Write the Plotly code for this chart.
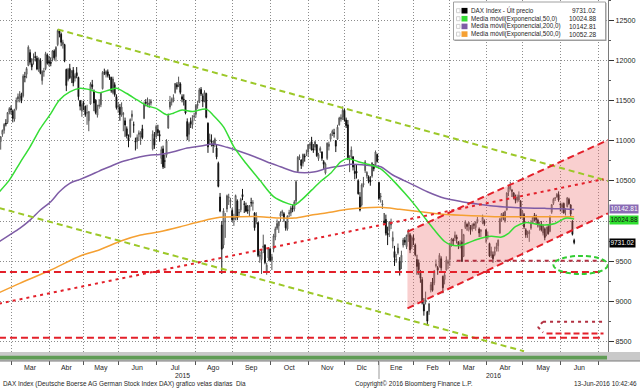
import pandas as pd
import plotly.graph_objects as go

# ---------------- data ----------------
FIRST_DAY, LAST_DAY = "2015-02-19", "2016-06-13"
HOLIDAYS = ["2015-04-03", "2015-04-06", "2015-05-01", "2015-12-24", "2015-12-25",
            "2015-12-31", "2016-01-01", "2016-03-25", "2016-03-28"]

OPEN = [
    10990, 10990, 11080, 11130, 11220, 11230, 11360,
    11400, 11370, 11270, 11400, 11520, 11530, 11560, 11560, 11800, 11830, 11940, 12100, 11960, 12000, 12050, 12030, 11900, 12000, 11750, 11860, 11900, 12070,
    11990, 11980, 12030, 12120, 12050, 12200, 12370, 12330, 12200, 12200, 11890, 11760, 11900, 11800, 11880, 11780, 11850, 11790, 11500, 11370,
    11470, 11430, 11350, 11250, 11460, 11700, 11620, 11500, 11320, 11430, 11450, 11650, 11850, 11830, 11860, 11800, 11790, 11600, 11700, 11550,
    11420, 11420, 11320, 11330, 11250, 11150, 11040, 11050, 11300, 11200, 11000, 10990, 11080, 11050, 11150, 11280, 11480, 11460, 11450, 11470, 10900, 11030,
    11050, 11140, 11080, 10780, 10900, 10750, 10820, 11160, 11420, 11480, 11510, 11600, 11700, 11690, 11710, 11550, 11520, 11500, 11240, 11080, 11240, 11200, 11300,
    11330, 11440, 11480, 11640, 11560, 11500, 11590, 11220, 11000, 11000, 10960, 10950, 10910, 10720, 10300, 9950, 9700, 9990, 10150, 10290, 10240,
    10130, 10020, 10060, 10250, 10100, 10140, 10330, 10210, 10190, 10140, 10120, 10230, 10220, 10100, 10000, 9980, 9560, 9520, 9670, 9700, 9370, 9540,
    9650, 9510, 9650, 9800, 9910, 9940, 10060, 10100, 10090, 9990, 9900, 10090, 10100, 10160, 10150, 10250, 10620, 10790, 10760, 10720, 10810, 10850,
    10860, 10950, 10990, 10900, 10920, 10950, 10780, 10880, 10860, 10740, 10600, 10780, 10930, 11020, 11090, 11100, 11000, 11020, 11200, 11270, 11300,
    11380, 11260, 11200, 10750, 10800, 10800, 10620, 10620, 10500, 10300, 10200, 10450, 10630, 10560, 10550, 10510, 10560, 10700, 10700, 10830,
    10480, 10300, 10200, 10000, 10020, 9850, 9880, 9950, 9750, 9620, 9510, 9600, 9500, 9480, 9700, 9760, 9680, 9810, 9830, 9680,
    9790, 9700, 9520, 9480, 9350, 9270, 8960, 9000, 8870, 8870, 9140, 9240, 9230, 9440, 9420, 9440, 9530, 9310, 9270, 9390, 9470,
    9520, 9700, 9770, 9790, 9800, 9740, 9700, 9740, 9560, 9920, 9960, 9940, 9930, 9900, 9960, 9920, 9990, 9900, 9870, 9980, 10000,
    9890, 9800, 9720, 9570, 9580, 9580, 9650, 9690, 9850, 10030, 10070, 10000, 10140, 10360, 10400, 10380, 10350, 10290, 10260, 10260, 10250,
    10060, 10080, 9890, 9840, 9840, 9910, 9980, 10070, 10060, 10010, 9930, 9960, 9850, 9900, 9830, 9930, 9870, 10110, 10220, 10280, 10300, 10330,
    10210, 10170, 10220, 10120, 10180, 10270, 10200, 10000, 9760,
]
HIGH = [
    11030, 11060, 11140, 11220, 11270, 11360, 11420,
    11440, 11390, 11400, 11540, 11590, 11620, 11600, 11830, 11860, 11920, 12190, 12140, 12030, 12090, 12110, 12060, 12040, 12030, 11880, 11910, 12110, 12090,
    12060, 12040, 12130, 12140, 12180, 12390, 12380, 12350, 12260, 12210, 11900, 11910, 11960, 11880, 11920, 11840, 11920, 11800, 11510, 11500,
    11500, 11440, 11450, 11370, 11730, 11760, 11640, 11520, 11450, 11520, 11600, 11870, 11900, 11880, 11890, 11830, 11800, 11800, 11730, 11580,
    11480, 11460, 11480, 11360, 11290, 11180, 11080, 11280, 11380, 11240, 11040, 11080, 11130, 11120, 11200, 11490, 11520, 11540, 11520, 11520, 11130, 11110,
    11200, 11200, 11130, 10930, 10940, 10830, 11020, 11340, 11560, 11540, 11580, 11720, 11730, 11800, 11730, 11580, 11580, 11510, 11280, 11230, 11290, 11320, 11350,
    11460, 11500, 11660, 11670, 11590, 11630, 11600, 11230, 11090, 11080, 11000, 11040, 10950, 10740, 10350, 10000, 10160, 10100, 10330, 10340, 10290,
    10160, 10090, 10330, 10270, 10150, 10290, 10400, 10250, 10230, 10200, 10200, 10290, 10260, 10110, 10110, 9990, 9630, 9640, 9830, 9710, 9480, 9670,
    9670, 9590, 9840, 9930, 10020, 10000, 10120, 10140, 10110, 10000, 10070, 10140, 10190, 10200, 10260, 10510, 10810, 10830, 10770, 10840, 10840, 10890,
    10960, 10980, 11050, 10960, 11000, 10960, 10850, 10930, 10870, 10760, 10730, 10980, 10990, 11090, 11140, 11150, 11010, 11200, 11300, 11330, 11430,
    11400, 11290, 11260, 10820, 10930, 10810, 10700, 10700, 10520, 10360, 10470, 10550, 10760, 10620, 10570, 10560, 10730, 10710, 10880, 10840,
    10490, 10350, 10260, 10100, 10080, 9930, 10000, 10030, 9870, 9690, 9590, 9720, 9550, 9630, 9790, 9800, 9830, 9900, 9850, 9820,
    9830, 9720, 9580, 9520, 9390, 9300, 9040, 9120, 8880, 8980, 9240, 9290, 9390, 9520, 9440, 9600, 9560, 9320, 9360, 9560, 9520,
    9730, 9790, 9790, 9870, 9830, 9750, 9760, 9900, 9840, 10010, 9970, 9990, 9950, 9970, 9980, 9990, 10050, 9920, 9900, 10080, 10020,
    9900, 9870, 9730, 9680, 9620, 9680, 9730, 9770, 10040, 10100, 10110, 10130, 10360, 10440, 10490, 10400, 10360, 10330, 10330, 10370, 10260,
    10140, 10100, 9910, 9880, 9890, 10010, 10050, 10100, 10080, 10030, 9990, 10000, 9960, 9920, 9930, 9960, 10070, 10210, 10290, 10300, 10350, 10370,
    10230, 10230, 10230, 10160, 10300, 10290, 10210, 10010, 9780,
]
LOW = [
    10930, 10890, 11050, 11090, 11180, 11210, 11330,
    11330, 11230, 11240, 11380, 11480, 11480, 11470, 11540, 11730, 11780, 11930, 11950, 11880, 11950, 11990, 11880, 11860, 11830, 11700, 11800, 11880, 11950,
    11930, 11930, 11990, 12010, 11990, 12180, 12290, 12180, 12150, 11980, 11620, 11740, 11770, 11720, 11680, 11740, 11780, 11510, 11380, 11300,
    11380, 11300, 11200, 11120, 11450, 11640, 11370, 11330, 11290, 11400, 11420, 11640, 11820, 11790, 11790, 11760, 11600, 11580, 11550, 11390,
    11350, 11250, 11300, 11120, 11050, 11030, 10920, 11040, 11250, 11100, 10880, 10900, 11000, 10950, 11020, 11270, 11430, 11420, 11410, 11440, 10880, 10900,
    11030, 11060, 10990, 10710, 10650, 10660, 10790, 11150, 11390, 11440, 11480, 11590, 11640, 11670, 11580, 11480, 11440, 11330, 11010, 10990, 11160, 11150, 11250,
    11290, 11400, 11470, 11560, 11420, 11480, 11280, 10850, 10960, 10930, 10850, 10920, 10770, 10420, 10110, 9340, 9660, 9790, 10110, 10200, 10160,
    9990, 9940, 10010, 10010, 10050, 10110, 10260, 10100, 10110, 10090, 10060, 10180, 10130, 9880, 9960, 9550, 9480, 9340, 9600, 9460, 9330, 9500,
    9490, 9390, 9610, 9760, 9890, 9850, 9990, 10060, 9990, 9880, 9880, 10050, 10060, 10110, 10120, 10200, 10610, 10760, 10650, 10680, 10740, 10810,
    10800, 10900, 10880, 10850, 10880, 10800, 10750, 10850, 10750, 10650, 10580, 10760, 10880, 10990, 11060, 11040, 10860, 11010, 11190, 11240, 11260,
    11240, 11160, 10760, 10610, 10770, 10630, 10520, 10530, 10330, 10120, 10180, 10420, 10600, 10530, 10470, 10440, 10540, 10620, 10690, 10730,
    10260, 10230, 10150, 9960, 9820, 9700, 9800, 9900, 9660, 9440, 9480, 9580, 9320, 9400, 9670, 9700, 9650, 9740, 9600, 9650,
    9700, 9560, 9330, 9330, 9230, 8960, 8820, 8960, 8700, 8830, 9110, 9120, 9200, 9420, 9330, 9420, 9380, 9100, 9210, 9380, 9400,
    9440, 9680, 9700, 9750, 9720, 9650, 9660, 9490, 9550, 9900, 9880, 9870, 9830, 9870, 9900, 9880, 9970, 9800, 9800, 9960, 9940,
    9730, 9770, 9550, 9540, 9480, 9560, 9620, 9620, 9840, 9990, 10010, 9980, 10130, 10310, 10380, 10300, 10270, 10220, 10230, 10240, 10030,
    10030, 9900, 9790, 9790, 9740, 9890, 9970, 10000, 9960, 9920, 9880, 9870, 9820, 9760, 9810, 9830, 9860, 10090, 10200, 10250, 10290, 10240,
    10120, 10100, 10090, 10070, 10170, 10200, 10050, 9820, 9710,
]
CLOSE = [
    11001, 11050, 11131, 11206, 11211, 11352, 11402,
    11390, 11280, 11390, 11504, 11551, 11582, 11500, 11806, 11799, 11901, 12168, 11980, 11923, 12020, 12040, 11896, 12017, 11843, 11865, 11868, 12086, 11966,
    11970, 11967, 12123, 12036, 12166, 12375, 12338, 12228, 12231, 11998, 11689, 11892, 11787, 11865, 11723, 11811, 11811, 11550, 11432, 11454,
    11455, 11327, 11350, 11367, 11709, 11674, 11472, 11352, 11400, 11447, 11595, 11853, 11848, 11864, 11815, 11790, 11625, 11771, 11577, 11413,
    11436, 11327, 11420, 11340, 11197, 11064, 11001, 11265, 11333, 11196, 10984, 11044, 11100, 11100, 11040, 11460, 11471, 11472, 11473, 11492, 11083, 10945,
    11180, 11100, 11058, 10890, 10676, 10747, 10996, 11316, 11484, 11516, 11539, 11716, 11673, 11734, 11604, 11520, 11512, 11347, 11056, 11212, 11211, 11257, 11309,
    11444, 11456, 11636, 11585, 11490, 11604, 11293, 10925, 11015, 10985, 10940, 11020, 10800, 10432, 10124, 9648, 10128, 9998, 10316, 10298, 10259,
    10016, 10048, 10318, 10038, 10108, 10271, 10303, 10210, 10123, 10131, 10188, 10227, 10229, 9916, 10066, 9571, 9570, 9612, 9688, 9483, 9450, 9660,
    9509, 9553, 9814, 9902, 9970, 9993, 10096, 10119, 10032, 9915, 10064, 10104, 10165, 10147, 10238, 10491, 10795, 10801, 10692, 10832, 10800, 10850,
    10951, 10951, 10887, 10887, 10988, 10815, 10832, 10907, 10782, 10708, 10713, 10971, 10959, 11085, 11119, 11092, 10934, 11170, 11284, 11293, 11382,
    11261, 11190, 10789, 10752, 10886, 10673, 10592, 10598, 10340, 10139, 10450, 10470, 10738, 10608, 10497, 10488, 10727, 10653, 10860, 10743,
    10283, 10310, 10214, 9979, 9849, 9825, 9985, 9960, 9794, 9545, 9521, 9664, 9391, 9574, 9764, 9736, 9822, 9880, 9639, 9798,
    9757, 9581, 9434, 9393, 9286, 8979, 8879, 9017, 8752, 8967, 9206, 9135, 9377, 9463, 9388, 9573, 9416, 9167, 9331, 9513, 9495,
    9717, 9776, 9751, 9824, 9778, 9692, 9723, 9498, 9831, 9990, 9933, 9983, 9892, 9950, 9948, 9990, 10022, 9851, 9887, 10046, 9966,
    9794, 9822, 9563, 9624, 9530, 9622, 9682, 9762, 10026, 10093, 10051, 10120, 10350, 10421, 10435, 10373, 10294, 10259, 10299, 10321, 10039,
    10123, 9926, 9828, 9851, 9870, 9980, 10045, 10036, 10015, 9952, 9952, 9890, 9943, 9795, 9916, 9842, 10057, 10205, 10272, 10287, 10333, 10263,
    10205, 10208, 10103, 10121, 10288, 10217, 10088, 9834, 9731,
]

EMA50_DATES = ["2015-02-19", "2015-02-27", "2015-03-09", "2015-03-17", "2015-03-25", "2015-04-02", "2015-04-13",
               "2015-04-21", "2015-04-29", "2015-05-08", "2015-05-15", "2015-05-25", "2015-05-29", "2015-06-08",
               "2015-06-16", "2015-06-24", "2015-07-01", "2015-07-09", "2015-07-15", "2015-07-22", "2015-07-30",
               "2015-08-11", "2015-08-17", "2015-08-25", "2015-09-02", "2015-09-11", "2015-09-23", "2015-10-05",
               "2015-10-15", "2015-10-21", "2015-10-27", "2015-11-04", "2015-11-11", "2015-11-19", "2015-11-27",
               "2015-12-03", "2015-12-11", "2015-12-22", "2016-01-05", "2016-01-14", "2016-01-25", "2016-02-01",
               "2016-02-09", "2016-02-17", "2016-02-25", "2016-03-02", "2016-03-10", "2016-03-17", "2016-03-29",
               "2016-04-06", "2016-04-14", "2016-04-20", "2016-04-26", "2016-05-04", "2016-05-11", "2016-05-19",
               "2016-05-27", "2016-06-06", "2016-06-13"]
EMA50 = [10360, 10510, 10720, 10925, 11155, 11340, 11510, 11610, 11655, 11635, 11600, 11635, 11655, 11590,
         11510, 11435, 11405, 11325, 11345, 11385, 11365, 11395, 11320, 11175, 10925, 10720, 10510, 10305,
         10220, 10200, 10260, 10385, 10490, 10595, 10740, 10780, 10740, 10700, 10650, 10510, 10345, 10220,
         10055, 9890, 9745, 9700, 9700, 9740, 9785, 9810, 9800, 9845, 9930, 9980, 9965, 9950, 9970, 10035, 10025]

EMA200_DATES = ["2015-02-19", "2015-02-27", "2015-03-09", "2015-03-17", "2015-03-25", "2015-04-02", "2015-04-13",
                "2015-04-21", "2015-04-29", "2015-05-08", "2015-05-15", "2015-05-25", "2015-06-03", "2015-06-10",
                "2015-06-18", "2015-06-26", "2015-07-03", "2015-07-15", "2015-07-24", "2015-08-06", "2015-08-17",
                "2015-08-27", "2015-09-08", "2015-09-18", "2015-09-29", "2015-10-09", "2015-10-21", "2015-10-29",
                "2015-11-06", "2015-11-17", "2015-11-27", "2015-12-07", "2015-12-22", "2016-01-05", "2016-01-14",
                "2016-01-28", "2016-02-11", "2016-02-25", "2016-03-10", "2016-03-23", "2016-04-07", "2016-04-21",
                "2016-05-05", "2016-05-19", "2016-06-01", "2016-06-13"]
EMA200 = [9742, 9825, 9909, 10012, 10137, 10241, 10365, 10470, 10520, 10574, 10623, 10677, 10740, 10769,
          10802, 10823, 10830, 10864, 10906, 10935, 10960, 10919, 10864, 10802, 10740, 10677, 10615, 10602,
          10615, 10657, 10686, 10707, 10690, 10677, 10574, 10470, 10365, 10283, 10241, 10212, 10187, 10171,
          10162, 10158, 10153, 10143]

EMA500_DATES = ["2015-02-19", "2015-03-09", "2015-04-02", "2015-04-29", "2015-05-15", "2015-06-03", "2015-06-18",
                "2015-07-03", "2015-07-21", "2015-08-05", "2015-08-21", "2015-09-08", "2015-09-23", "2015-10-09",
                "2015-10-21", "2015-11-04", "2015-11-17", "2015-12-03", "2015-12-11", "2016-01-05", "2016-01-20",
                "2016-02-05", "2016-02-22", "2016-03-10", "2016-03-29", "2016-04-14", "2016-04-29", "2016-05-17",
                "2016-06-01", "2016-06-13"]
EMA500 = [9106, 9223, 9389, 9564, 9639, 9754, 9825, 9867, 9929, 9991, 10046, 10054, 10054, 10037, 10037,
          10075, 10104, 10146, 10158, 10171, 10146, 10116, 10087, 10071, 10062, 10054, 10054, 10054, 10054, 10052]

LEGEND_NAMES = ["DAX Index - Últ precio", "Media móvil(Exponencial,50,0)",
                "Media móvil(Exponencial,200,0)", "Media móvil(Exponencial,500,0)"]
LEGEND_VALUES = [9731.02, 10024.88, 10142.81, 10052.28]

MONTH_LABELS = ["Mar", "Abr", "May", "Jun", "Jul", "Ago", "Sep", "Oct", "Nov", "Dic",
                "Ene", "Feb", "Mar", "Abr", "May", "Jun"]
MONTH_MID = ["2015-03-17", "2015-04-17", "2015-05-18", "2015-06-16", "2015-07-16", "2015-08-17",
             "2015-09-16", "2015-10-16", "2015-11-17", "2015-12-15", "2016-01-18", "2016-02-16",
             "2016-03-16", "2016-04-18", "2016-05-18", "2016-06-16"]
MONTH_START = ["2015-03-02", "2015-04-01", "2015-05-04", "2015-06-01", "2015-07-01", "2015-08-03",
               "2015-09-01", "2015-10-01", "2015-11-02", "2015-12-01", "2016-01-04", "2016-02-01",
               "2016-03-01", "2016-04-01", "2016-05-02", "2016-06-01", "2016-07-01"]
Y_TICKS = [8500, 9000, 9500, 10000, 10500, 11000, 11500, 12000, 12500]
# the 10000 label is hidden behind the last-value tags in the reference
Y_LABELS = ["8500", "9000", "9500", "", "10500", "11000", "11500", "12000", "12500"]
YEAR_LABELS = ["2015", "2016"]

# hand-drawn analysis lines (date, value)
TREND_UPPER = (["2015-04-10", "2016-07-08 14:00"], [12390, 10500])
TREND_LOWER = (["2015-02-19", "2016-05-03"], [10164, 8376])
RISING_DOTTED = (["2015-02-19", "2016-07-06"], [8970, 10522])
SUPPORT_1 = (["2015-02-19", "2016-07-06"], [9364, 9364])
SUPPORT_2 = (["2015-02-19", "2016-07-06"], [8545, 8545])
LEVEL_9500 = (["2016-03-07", "2016-07-06"], [9505, 9505])
LEVEL_8744 = (["2016-05-18", "2016-07-06"], [8744, 8744])
LEVEL_8597 = (["2016-05-20", "2016-07-06"], [8597, 8597])
HOOK = (["2016-05-18", "2016-05-13", "2016-05-18"], [8744, 8680, 8610])
CH_UP = (["2016-01-26 12:00", "2016-07-08 14:00"], [9867, 11010])
CH_LO = (["2016-01-26 12:00", "2016-07-08 14:00"], [8911, 10096])
ELLIPSE = (["2016-05-26", "2016-07-08 12:00"], [9340, 9565])

# ---------------- styling ----------------
FONT = "Liberation Sans, Arial, sans-serif"
TXT = "#262626"
GREEN, PURPLE, ORANGE = "#35dd35", "#7e5ca6", "#f5a032"
YGREEN, RED, DRED = "#9cc828", "#e3202a", "#b23040"
W_PLOT, H_PLOT = 608.0, 352.0


def px(x):
    return x / W_PLOT


def py(y):
    return 1 - y / H_PLOT


dates = [d for d in pd.bdate_range(FIRST_DAY, LAST_DAY) if d.strftime("%Y-%m-%d") not in HOLIDAYS]
n = min(len(dates), len(OPEN), len(HIGH), len(LOW), len(CLOSE))

fig = go.Figure()

# channel fill
fig.add_trace(go.Scatter(
    x=[CH_UP[0][0], CH_UP[0][1], CH_LO[0][1], CH_LO[0][0]],
    y=[CH_UP[1][0], CH_UP[1][1], CH_LO[1][1], CH_LO[1][0]],
    fill="toself", fillcolor="rgba(236,105,105,0.32)", mode="lines",
    line=dict(width=0), hoverinfo="skip"))

fig.add_trace(go.Candlestick(
    x=dates[:n], open=OPEN[:n], high=HIGH[:n], low=LOW[:n], close=CLOSE[:n],
    increasing=dict(line=dict(color="#555555", width=1), fillcolor="#ffffff"),
    decreasing=dict(line=dict(color="#111111", width=1), fillcolor="#111111"),
    whiskerwidth=0))

for dts, vals, col in [(EMA500_DATES, EMA500, ORANGE), (EMA200_DATES, EMA200, PURPLE),
                       (EMA50_DATES, EMA50, GREEN)]:
    fig.add_trace(go.Scatter(x=dts, y=vals, mode="lines",
                             line=dict(color=col, width=1.5, shape="spline", smoothing=0.8),
                             hoverinfo="skip"))

shapes = []


def seg(line, color, dash, width=2):
    xs, ys = line
    for i in range(len(xs) - 1):
        shapes.append(dict(type="line", xref="x", yref="y", x0=xs[i], x1=xs[i + 1],
                           y0=ys[i], y1=ys[i + 1], layer="above",
                           line=dict(color=color, width=width, dash=dash)))


seg(TREND_UPPER, YGREEN, "6px,4px")
seg(TREND_LOWER, YGREEN, "6px,4px")
seg(SUPPORT_1, RED, "7px,4px")
seg(SUPPORT_2, RED, "7px,4px")
seg(RISING_DOTTED, RED, "3px,4px")
seg(CH_UP, RED, "7px,4px")
seg(CH_LO, RED, "7px,4px")
seg(LEVEL_9500, DRED, "4px,4px")
seg(LEVEL_8744, DRED, "3px,4px")
seg(LEVEL_8597, RED, "6px,3px")
seg(HOOK, DRED, "3px,4px")
shapes.append(dict(type="circle", xref="x", yref="y", x0=ELLIPSE[0][0], x1=ELLIPSE[0][1],
                   y0=ELLIPSE[1][0], y1=ELLIPSE[1][1], layer="above",
                   line=dict(color="#33cc33", width=2, dash="5px,3px")))

# bottom strip (Bloomberg scroll bar)
shapes.append(dict(type="rect", xref="paper", yref="paper", x0=0, x1=px(640), y0=py(361), y1=py(352),
                   fillcolor="#c9c9c9", line=dict(width=0), layer="above"))
shapes.append(dict(type="rect", xref="paper", yref="paper", x0=0, x1=px(607), y0=py(359.5), y1=py(355.8),
                   fillcolor="#5f9c55", line=dict(width=0), layer="above"))
shapes.append(dict(type="line", xref="paper", yref="paper", x0=0, x1=px(640), y0=py(361), y1=py(361),
                   line=dict(color="#7a7a7a", width=1), layer="above"))
# year separator
shapes.append(dict(type="line", xref="paper", yref="paper", x0=px(379), x1=px(379), y0=py(362), y1=py(379),
                   line=dict(color="#999999", width=1)))

# legend box
shapes.append(dict(type="rect", xref="paper", yref="paper", x0=px(454.5), x1=px(606.5), y0=py(41), y1=py(3),
                   fillcolor="#9a9a9a", line=dict(width=0), layer="above"))
shapes.append(dict(type="rect", xref="paper", yref="paper", x0=px(453.5), x1=px(605.5), y0=py(40), y1=py(2),
                   fillcolor="#ffffff", line=dict(color="#a0a0a0", width=1), layer="above"))

annotations = []
leg_rows = [10.7, 18.7, 26.4, 34.1]
leg_cols = ["#000000", GREEN, PURPLE, ORANGE]
for row, col, name, val in zip(leg_rows, leg_cols, LEGEND_NAMES, LEGEND_VALUES):
    shapes.append(dict(type="rect", xref="paper", yref="paper", x0=px(456.5), x1=px(460), y0=py(row + 2),
                       y1=py(row - 2), fillcolor="#ffffff", line=dict(color="#d0d0d0", width=1), layer="above"))
    shapes.append(dict(type="rect", xref="paper", yref="paper", x0=px(461.5), x1=px(467.5), y0=py(row + 2.8),
                       y1=py(row - 2.8), fillcolor=col, line=dict(width=0), layer="above"))
    annotations.append(dict(xref="paper", yref="paper", x=px(469), y=py(row), xanchor="left",
                            yanchor="middle", text=name, showarrow=False,
                            font=dict(family=FONT, size=6.3, color=TXT)))
    annotations.append(dict(xref="paper", yref="paper", x=px(598), y=py(row), xanchor="right",
                            yanchor="middle", text=f"{val:.2f}", showarrow=False,
                            font=dict(family=FONT, size=6.5, color=TXT)))

# last value tags on the right axis
tag_style = [("#8a6cb5", "#ffffff", 2, 1.0), ("#2fe02f", "#111111", 1, -1.0), ("#000000", "#ffffff", 0, 0)]
for bg, fg, idx, shift in tag_style:
    annotations.append(dict(xref="paper", yref="y", x=1, y=LEGEND_VALUES[idx], xanchor="left",
                            yanchor="middle", xshift=0.5, yshift=shift, text=f"{LEGEND_VALUES[idx]:.2f}",
                            showarrow=False, bgcolor=bg, borderpad=0.4,
                            font=dict(family=FONT, size=6.5, color=fg)))

# year labels and footer
annotations += [
    dict(xref="paper", yref="paper", x=px(182), y=py(375.5), text=YEAR_LABELS[0], showarrow=False,
         xanchor="center", yanchor="middle", font=dict(family=FONT, size=6.8, color=TXT)),
    dict(xref="paper", yref="paper", x=px(493), y=py(375.5), text=YEAR_LABELS[1], showarrow=False,
         xanchor="center", yanchor="middle", font=dict(family=FONT, size=6.8, color=TXT)),
    dict(xref="paper", yref="paper", x=px(1), y=py(383.5), xanchor="left", yanchor="middle", showarrow=False,
         text="DAX Index (Deutsche Boerse AG German Stock Index DAX) grafico velas diarias  Dia",
         font=dict(family=FONT, size=6.4, color=TXT)),
    dict(xref="paper", yref="paper", x=px(353), y=py(383.5), xanchor="left", yanchor="middle", showarrow=False,
         text="Copyright© 2016 Bloomberg Finance L.P.", font=dict(family=FONT, size=6.4, color=TXT)),
    dict(xref="paper", yref="paper", x=px(639), y=py(383.5), xanchor="right", yanchor="middle", showarrow=False,
         text="13-Jun-2016 10:42:46", font=dict(family=FONT, size=6.4, color=TXT)),
]

fig.update_layout(
    width=640, height=389, margin=dict(l=0, r=32, t=0, b=37),
    paper_bgcolor="#ffffff", plot_bgcolor="#ffffff", showlegend=False,
    shapes=shapes, annotations=annotations, hovermode=False,
    xaxis=dict(
        type="date", range=["2015-02-19 14:24", "2016-07-08 14:24"],
        rangebreaks=[dict(bounds=["sat", "mon"]), dict(values=HOLIDAYS)],
        rangeslider=dict(visible=False),
        tickmode="array", tickvals=MONTH_MID, ticktext=MONTH_LABELS, ticks="",
        showgrid=False, zeroline=False, showline=False, automargin=False,
        ticklabelstandoff=10, tickfont=dict(family=FONT, size=7, color=TXT),
        minor=dict(tickmode="array", tickvals=MONTH_START, showgrid=True, gridcolor="#8c8c8c",
                   griddash="1px,2px", gridwidth=1, ticks="outside", ticklen=12, tickcolor="#555555"),
    ),
    yaxis=dict(
        side="right", range=[8367, 12756], tickmode="array", tickvals=Y_TICKS, ticktext=Y_LABELS,
        ticks="outside", ticklen=5, tickcolor="#333333", showline=True, linecolor="#7a7a7a",
        showgrid=True, gridcolor="#8c8c8c", griddash="1px,2px", zeroline=False, automargin=False,
        tickfont=dict(family=FONT, size=7.2, color=TXT),
        minor=dict(dtick=250, ticks="outside", ticklen=2, tickcolor="#555555", showgrid=False),
    ),
)

fig.write_html("out.html")
